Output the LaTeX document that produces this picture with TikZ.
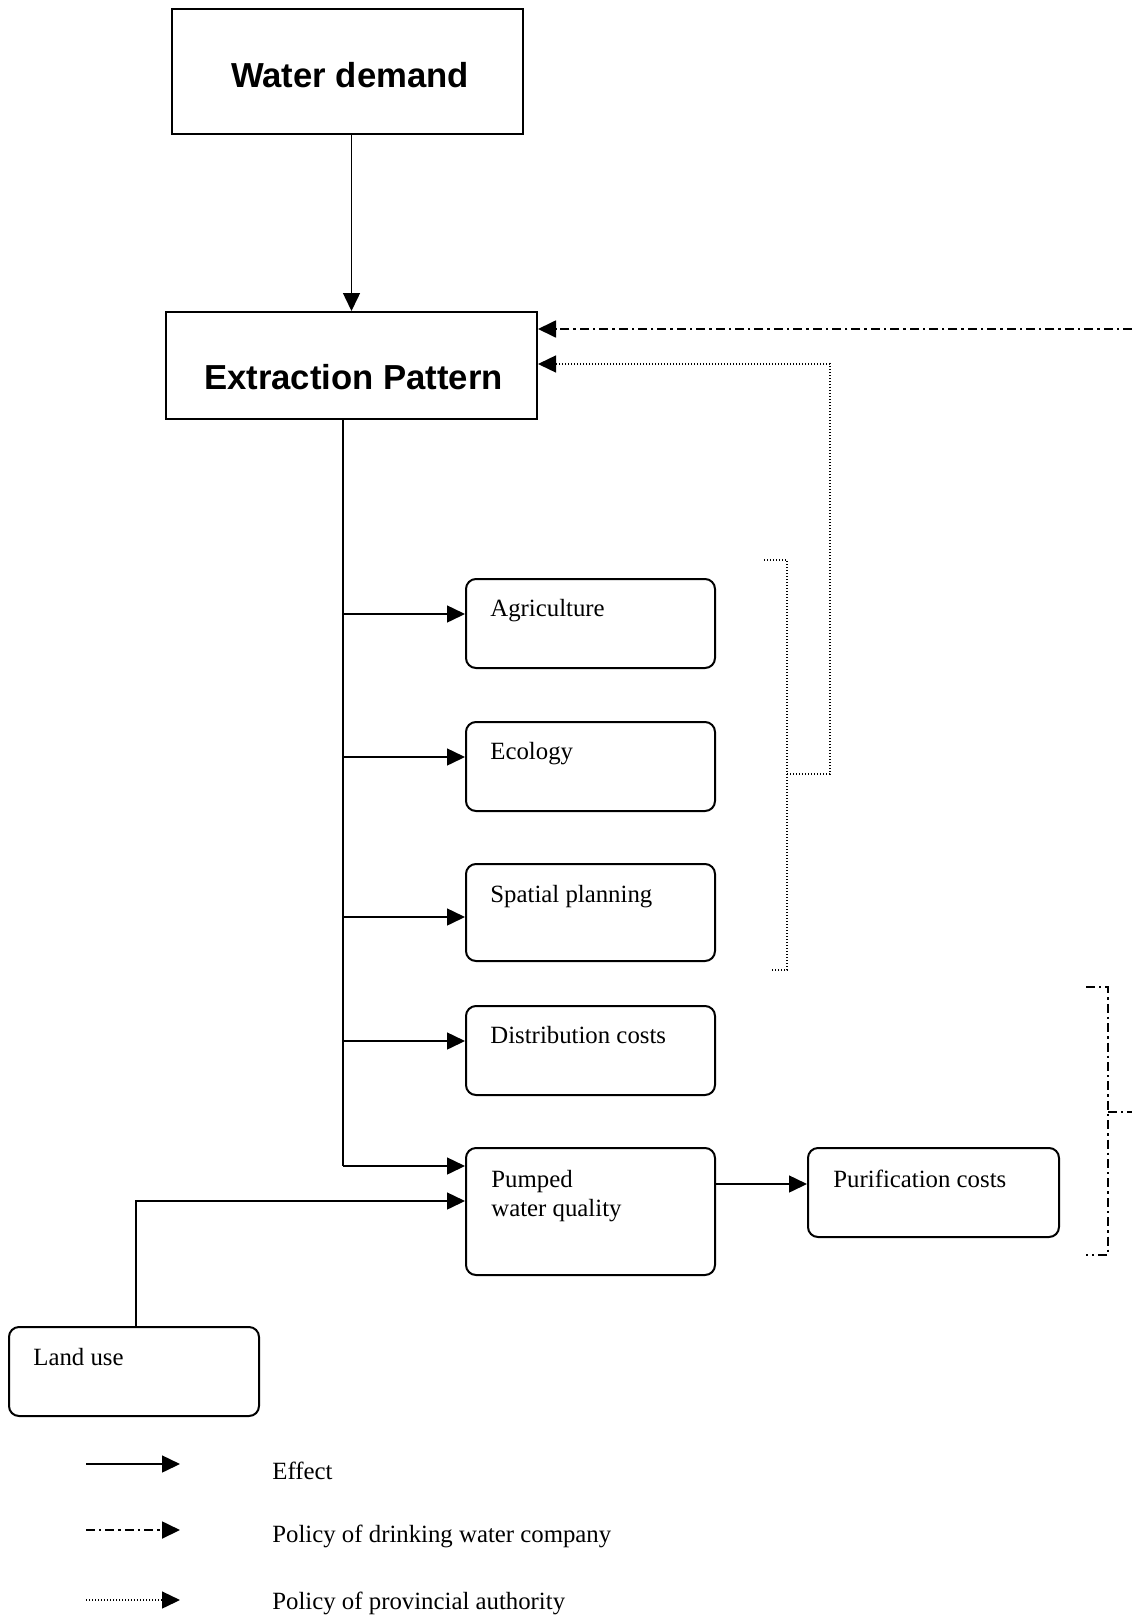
\documentclass[tikz,border=0pt]{standalone}
\usepackage{fontspec}
\setmainfont{Liberation Serif}
\setsansfont{Liberation Sans}
\usetikzlibrary{arrows.meta,calc}

\begin{document}
\begin{tikzpicture}[x=0.5pt,y=-0.5pt,
  tri/.tip={Triangle[length=9pt,width=8.5pt]},
  titlebox/.style={draw,line width=1pt,inner sep=0pt,anchor=north west},
  itembox/.style={draw,line width=1pt,rounded corners=5pt,inner sep=0pt,anchor=north west,
    minimum width=124.5pt,minimum height=44.5pt},
  titletext/.style={inner sep=0pt,font=\sffamily\bfseries\fontsize{17.35}{20}\selectfont},
  itemtext/.style={inner sep=0pt,anchor=base west,font=\fontsize{12.4}{14.5}\selectfont},
  effect/.style={line width=0.75pt,-tri},
  company/.style={line width=0.9pt,dash pattern=on 4.5pt off 2pt on 1.2pt off 2pt},
  province/.style={line width=0.7pt,dash pattern=on 0.6pt off 0.9pt},
]
\useasboundingbox (0,0) rectangle (1132,1616);

% main boxes
\node[titlebox,minimum width=175.5pt,minimum height=62.5pt] (wd) at (171,8) {};
\node[titletext] at ($(wd.center)+(2.5,4)$) {Water demand};
\node[titlebox,minimum width=185.5pt,minimum height=53.5pt] (ext) at (165,311) {};
\node[titletext] at ($(ext.center)+(2,12)$) {Extraction Pattern};

% effect boxes
\node[itembox] (agr) at (465,578) {};
\node[itemtext] at ($(agr.north west)+(25,38)$) {Agriculture};
\node[itembox] (eco) at (465,721) {};
\node[itemtext] at ($(eco.north west)+(25,38)$) {Ecology};
\node[itembox,minimum height=48.5pt] (spa) at (465,863) {};
\node[itemtext] at ($(spa.north west)+(25,39)$) {Spatial planning};
\node[itembox] (dis) at (465,1005) {};
\node[itemtext] at ($(dis.north west)+(25,38)$) {Distribution costs};
\node[itembox,minimum height=63.5pt] (pum) at (465,1147) {};
\node[itemtext] at ($(pum.north west)+(26,40)$) {Pumped};
\node[itemtext] at ($(pum.north west)+(26,69)$) {water quality};
\node[itembox,minimum width=125.5pt] (pur) at (807,1147) {};
\node[itemtext] at ($(pur.north west)+(26,40)$) {Purification costs};
\node[itembox,minimum width=125pt] (lan) at (8,1326) {};
\node[itemtext] at ($(lan.north west)+(25,39)$) {Land use};

% effects
\draw[effect] (ext.north |- wd.south) -- (ext.north);
\coordinate (s1) at (343,614);
\coordinate (s2) at (343,757);
\coordinate (s3) at (343,917);
\coordinate (s4) at (343,1041);
\coordinate (s5) at (343,1166);
\draw[line width=0.75pt] (s1 |- ext.south) -- (s5);
\draw[effect] (s1) -- (s1 -| agr.west);
\draw[effect] (s2) -- (s2 -| eco.west);
\draw[effect] (s3) -- (s3 -| spa.west);
\draw[effect] (s4) -- (s4 -| dis.west);
\draw[effect] (s5) -- (s5 -| pum.west);
\coordinate (lb) at (136,1326);
\coordinate (lu) at (465,1201);
\draw[effect] (lb) |- (lu);
\coordinate (pp) at (714,1184);
\draw[effect] (pp) -- (pp -| pur.west);

% policy of the provincial authority
\coordinate (pa1) at (764,560);
\coordinate (pa2) at (787,560);
\coordinate (pa3) at (787,970);
\coordinate (pa4) at (772,970);
\coordinate (pm) at (787,774);
\coordinate (pc) at (830,774);
\coordinate (pt) at (830,364);
\draw[province] (pa1) -- (pa2) -- (pa3) -- (pa4);
\draw[province,-tri] (pm) -- (pc) -- (pt) -- (pt -| ext.east);

% policy of the drinking water company
\coordinate (dc1) at (1086,987);
\coordinate (dc2) at (1108,987);
\coordinate (dc3) at (1108,1255);
\coordinate (dc4) at (1086,1255);
\coordinate (dm) at (1108,1112);
\coordinate (de) at (1132,1112);
\coordinate (dt) at (1132,329);
\draw[company] (dc1) -- (dc2) -- (dc3) -- (dc4);
\draw[company] (dm) -- (de);
\draw[company,-tri] (dt) -- (dt -| ext.east);

% legend
\coordinate (l1a) at (86,1464);  \coordinate (l1b) at (180,1464);
\coordinate (l2a) at (86,1530);  \coordinate (l2b) at (180,1530);
\coordinate (l3a) at (86,1600);  \coordinate (l3b) at (180,1600);
\draw[effect] (l1a) -- (l1b);
\draw[company,-tri] (l2a) -- (l2b);
\draw[province,-tri] (l3a) -- (l3b);
\node[itemtext] (t1) at (272,1479) {Effect};
\node[itemtext] (t2) at (272,1542) {Policy of drinking water company};
\node[itemtext] (t3) at (272,1609) {Policy of provincial authority};
\end{tikzpicture}
\end{document}
